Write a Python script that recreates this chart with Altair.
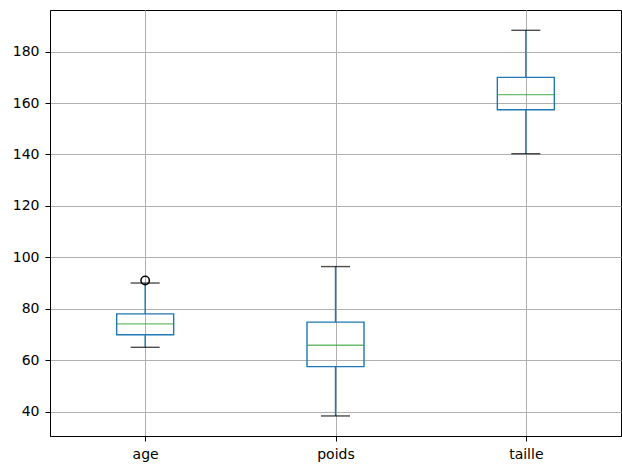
import altair as alt
import pandas as pd

# Box plot summary per variable
variables = ["age", "poids", "taille"]
whisker_low = [65, 38.3, 140.3]
q1 = [69.9, 57.5, 157.4]
median = [74.1, 65.8, 163.3]
q3 = [78.0, 74.8, 170.0]
whisker_high = [90, 96.4, 188.3]

# Points beyond the whiskers
outlier_var = ["age"]
outlier_val = [91]

stats = pd.DataFrame({
    "variable": variables,
    "low": whisker_low,
    "q1": q1,
    "median": median,
    "q3": q3,
    "high": whisker_high,
})
outliers = pd.DataFrame({"variable": outlier_var, "value": outlier_val})

BLUE = "#1f77b4"
GREEN = "#2ca02c"
LW = 1.4

x = alt.X(
    "variable:N",
    sort=variables,
    scale=alt.Scale(type="point", padding=0.5),
    axis=alt.Axis(
        title=None, labelAngle=0, labelFontSize=14, labelColor="#000000",
        tickSize=5, tickColor="#000000", labelPadding=6,
        grid=True, gridColor="#b0b0b0", gridWidth=1,
        domainColor="#000000", domainWidth=1,
    ),
)
yscale = alt.Scale(domain=[30.5, 196.2], nice=False, zero=False)
yaxis = alt.Axis(
    title=None, values=[40, 60, 80, 100, 120, 140, 160, 180],
    labelFontSize=14, labelColor="#000000", tickSize=5, tickColor="#000000",
    labelPadding=6, grid=True, gridColor="#b0b0b0", gridWidth=1,
    domainColor="#000000", domainWidth=1,
)

base = alt.Chart(stats)

whisker_up = base.mark_rule(color=BLUE, strokeWidth=LW).encode(
    x=x, y=alt.Y("q3:Q", scale=yscale, axis=yaxis), y2="high:Q"
)
whisker_down = base.mark_rule(color=BLUE, strokeWidth=LW).encode(
    x=x, y=alt.Y("low:Q", scale=yscale), y2="q1:Q"
)
box = base.mark_bar(
    size=57, fillOpacity=0, fill="white", stroke=BLUE, strokeWidth=LW
).encode(x=x, y=alt.Y("q1:Q", scale=yscale), y2="q3:Q")
med = base.mark_tick(
    orient="horizontal", size=57, thickness=LW, color=GREEN
).encode(x=x, y=alt.Y("median:Q", scale=yscale))
cap_high = base.mark_tick(
    orient="horizontal", size=29, thickness=LW, color="#000000"
).encode(x=x, y=alt.Y("high:Q", scale=yscale))
cap_low = base.mark_tick(
    orient="horizontal", size=29, thickness=LW, color="#000000"
).encode(x=x, y=alt.Y("low:Q", scale=yscale))
fliers = alt.Chart(outliers).mark_point(
    shape="circle", size=70, filled=False, color="#000000", strokeWidth=1.5, opacity=1
).encode(x=x, y=alt.Y("value:Q", scale=yscale))

chart = (
    alt.layer(whisker_up, whisker_down, box, med, cap_high, cap_low, fliers)
    .properties(
        width=571, height=426,
        autosize=alt.AutoSizeParams(type="none"),
        padding={"left": 50, "top": 10, "right": 1, "bottom": 33},
    )
    .configure_view(stroke="#000000", strokeWidth=1)
    .configure_axis(labelFont="DejaVu Sans")
)

chart.save("out.html", embed_options={"renderer": "svg", "actions": False})
